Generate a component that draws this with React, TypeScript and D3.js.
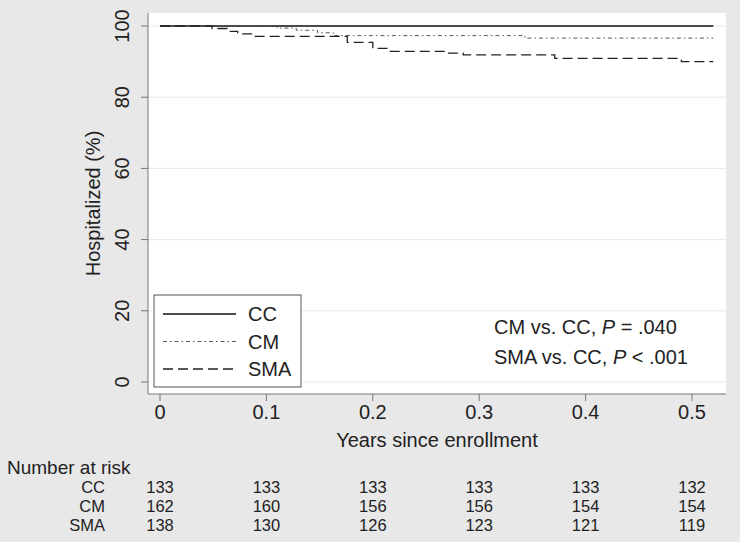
import React from "react";
import * as d3 from "d3";

const xTicks = [0, 0.1, 0.2, 0.3, 0.4, 0.5];
const xTickLabels = ["0", "0.1", "0.2", "0.3", "0.4", "0.5"];
const yTicks = [0, 20, 40, 60, 80, 100];

const ccTimes = [0, 0.52];
const ccValues = [100, 100];

const cmTimes = [0, 0.11, 0.128, 0.148, 0.163, 0.343, 0.52];
const cmValues = [100, 99.4, 98.8, 98.1, 97.3, 96.6, 96.6];

const smaTimes = [0, 0.049, 0.064, 0.073, 0.086, 0.176, 0.2, 0.215, 0.268, 0.285, 0.371, 0.49, 0.52];
const smaValues = [100, 99.3, 98.5, 97.8, 97.1, 95.4, 93.7, 92.9, 92.4, 91.9, 90.9, 90.0, 90.0];

const riskGroups = ["CC", "CM", "SMA"];
const riskCC = [133, 133, 133, 133, 133, 132];
const riskCM = [162, 160, 156, 156, 154, 154];
const riskSMA = [138, 130, 126, 123, 121, 119];

const FONT = "'Liberation Sans', Arial, Helvetica, sans-serif";

export default function App() {
  const x = d3.scaleLinear().domain([0, 0.5]).range([160, 692]);
  const y = d3.scaleLinear().domain([0, 100]).range([382, 26]);
  const plot = { x0: 148, x1: 726, y0: 13, y1: 394 };

  const mk = (ts: number[], vs: number[]) =>
    d3
      .line<number>()
      .x((_, i) => x(ts[i]))
      .y((v) => y(v))
      .curve(d3.curveStepAfter)(vs) || "";

  const series = [
    { name: "CC", d: mk(ccTimes, ccValues), stroke: "#111", w: 1.6, dash: "" },
    { name: "CM", d: mk(cmTimes, cmValues), stroke: "#555", w: 1, dash: "4 3 1.5 3" },
    { name: "SMA", d: mk(smaTimes, smaValues), stroke: "#222", w: 1.3, dash: "10 5" },
  ];
  const risks = [riskCC, riskCM, riskSMA];

  return (
    <svg
      width={740}
      height={542}
      style={{ position: "absolute", left: 0, top: 0, fontFamily: FONT }}
    >
      <rect x={0} y={0} width={740} height={542} fill="#e8e8e8" />
      <rect x={plot.x0} y={plot.y0} width={plot.x1 - plot.x0} height={plot.y1 - plot.y0} fill="#ffffff" />
      {yTicks.map((t) => (
        <line key={"g" + t} x1={plot.x0} x2={plot.x1} y1={y(t)} y2={y(t)} stroke="#eaeaea" strokeWidth={1} />
      ))}
      <line x1={plot.x0} x2={plot.x0} y1={plot.y0} y2={plot.y1} stroke="#777" strokeWidth={1} />
      <line x1={plot.x0} x2={plot.x1} y1={plot.y1} y2={plot.y1} stroke="#777" strokeWidth={1} />
      {yTicks.map((t) => (
        <g key={"yt" + t}>
          <line x1={plot.x0 - 7} x2={plot.x0} y1={y(t)} y2={y(t)} stroke="#777" />
          <text
            transform={`translate(${129},${y(t)}) rotate(-90)`}
            textAnchor="middle"
            fontSize={20}
            fill="#222"
          >
            {t}
          </text>
        </g>
      ))}
      {xTicks.map((t, i) => (
        <g key={"xt" + t}>
          <line x1={x(t)} x2={x(t)} y1={plot.y1} y2={plot.y1 + 7} stroke="#777" />
          <text x={x(t)} y={419} textAnchor="middle" fontSize={20} fill="#222">
            {xTickLabels[i]}
          </text>
        </g>
      ))}
      <text x={(plot.x0 + plot.x1) / 2} y={447} textAnchor="middle" fontSize={20} fill="#222">
        Years since enrollment
      </text>
      <text
        transform={`translate(${100},${(plot.y0 + plot.y1) / 2}) rotate(-90)`}
        textAnchor="middle"
        fontSize={20}
        fill="#222"
      >
        Hospitalized (%)
      </text>

      {series.map((s) => (
        <path key={s.name} d={s.d} fill="none" stroke={s.stroke} strokeWidth={s.w} strokeDasharray={s.dash} />
      ))}

      <rect x={154} y={295} width={147} height={92} fill="#fff" stroke="#555" strokeWidth={1} />
      {series.map((s, i) => (
        <g key={"lg" + s.name}>
          <line x1={163} x2={236} y1={314 + i * 27.5} y2={314 + i * 27.5} stroke={s.stroke} strokeWidth={s.w} strokeDasharray={s.dash} />
          <text x={248} y={321 + i * 27.5} fontSize={20} fill="#222">
            {s.name}
          </text>
        </g>
      ))}

      <text x={494} y={334} fontSize={20} fill="#222">
        CM vs. CC, <tspan fontStyle="italic">P</tspan> = .040
      </text>
      <text x={494} y={364} fontSize={20} fill="#222">
        SMA vs. CC, <tspan fontStyle="italic">P</tspan> &lt; .001
      </text>

      <text x={7} y={474} fontSize={19} fill="#222">
        Number at risk
      </text>
      {riskGroups.map((g, r) => (
        <g key={"rg" + g}>
          <text x={105} y={493 + r * 19} textAnchor="end" fontSize={16.5} fill="#222">
            {g}
          </text>
          {risks[r].map((v, i) => (
            <text key={i} x={x(xTicks[i])} y={493 + r * 19} textAnchor="middle" fontSize={16.5} fill="#222">
              {v}
            </text>
          ))}
        </g>
      ))}
    </svg>
  );
}
